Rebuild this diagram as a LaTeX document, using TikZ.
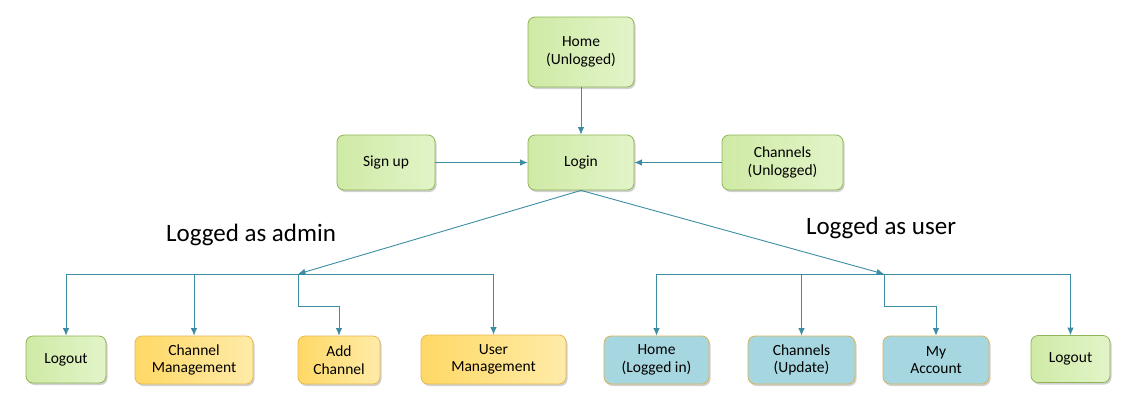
\documentclass[tikz,border=0pt]{standalone}
\usepackage{fontspec}
\setmainfont{Carlito}
\usetikzlibrary{arrows.meta,shadows}
\definecolor{gA}{HTML}{CFEAA6}
\definecolor{gB}{HTML}{E2F4C8}
\definecolor{gD}{HTML}{8FB455}
\definecolor{yA}{HTML}{FFD966}
\definecolor{yB}{HTML}{FFEBA8}
\definecolor{yD}{HTML}{E6B84C}
\definecolor{bA}{HTML}{A6D6E0}
\definecolor{bD}{HTML}{D9B45A}
\definecolor{ln}{HTML}{3C8DA3}
\tikzset{
  box/.style={rounded corners=7pt, align=center, inner sep=2pt, line width=0.8pt,
    font=\fontsize{15.5}{17.5}\selectfont,
    drop shadow={shadow xshift=1.5pt, shadow yshift=-2pt, fill=black, opacity=0.18}},
  gbox/.style={box, draw=gD, left color=gA, right color=gB},
  ybox/.style={box, draw=yD, left color=yA, right color=yB},
  bbox/.style={box, draw=bD, fill=bA},
  conn/.style={ln, line width=0.9pt, -{Latex[length=7.5pt,width=6.5pt]}},
  seg/.style={ln, line width=0.9pt},
  lbl/.style={font=\fontsize{25}{29}\selectfont}
}
\begin{document}
\begin{tikzpicture}[x=1pt,y=-1pt]
\useasboundingbox (0,0) rectangle (1135,408);
% top
\node[gbox, minimum width=106pt, minimum height=70pt] (home) at (581,52) {Home\\(Unlogged)};
\node[gbox, minimum width=106pt, minimum height=55pt] (login) at (581,162.5) {Login};
\node[gbox, minimum width=98pt, minimum height=55pt] (signup) at (386,162.5) {Sign up};
\node[gbox, minimum width=121pt, minimum height=55pt] (chu) at (782.5,162.5) {Channels\\(Unlogged)};
\node[lbl] (ladmin) at (251,235) {Logged as admin};
\node[lbl] (luser) at (881,228) {Logged as user};
% bottom admin
\node[gbox, minimum width=80pt, minimum height=47pt] (lo1) at (66,359.5) {Logout};
\node[ybox, minimum width=118pt, minimum height=48pt] (cm) at (194,360) {Channel\\Management};
\node[ybox, minimum width=82pt, minimum height=48pt] (ac) at (339,360) {Add\\Channel};
\node[ybox, minimum width=145pt, minimum height=49pt] (um) at (493.5,359.5) {User\\Management};
% bottom user
\node[bbox, minimum width=105pt, minimum height=48pt] (hli) at (656.5,360) {Home\\(Logged in)};
\node[bbox, minimum width=107pt, minimum height=48pt] (chup) at (801.5,360) {Channels\\(Update)};
\node[bbox, minimum width=106pt, minimum height=48pt] (ma) at (936,360) {My\\Account};
\node[gbox, minimum width=79pt, minimum height=47pt] (lo2) at (1070.5,359) {Logout};
% junctions
\coordinate (ja) at (298,274);
\coordinate (ju) at (884,274);
\coordinate (ja2) at (298,306);
\coordinate (ju2) at (884,306);
% connectors
\draw[conn] (home) -- (login);
\draw[conn] (signup) -- (login);
\draw[conn] (chu) -- (login);
\draw[conn] (login.south) -- (ja);
\draw[conn] (login.south) -- (ju);
\draw[seg] (lo1.north |- ja) -- (um.north |- ja);
\draw[conn] (lo1.north |- ja) -- (lo1.north);
\draw[conn] (cm.north |- ja) -- (cm.north);
\draw[conn] (um.north |- ja) -- (um.north);
\draw[conn] (ja) -- (ja2) -| (ac.north);
\draw[seg] (hli.north |- ju) -- (lo2.north |- ju);
\draw[conn] (hli.north |- ju) -- (hli.north);
\draw[conn] (chup.north |- ju) -- (chup.north);
\draw[conn] (lo2.north |- ju) -- (lo2.north);
\draw[conn] (ju) -- (ju2) -| (ma.north);
\end{tikzpicture}
\end{document}
